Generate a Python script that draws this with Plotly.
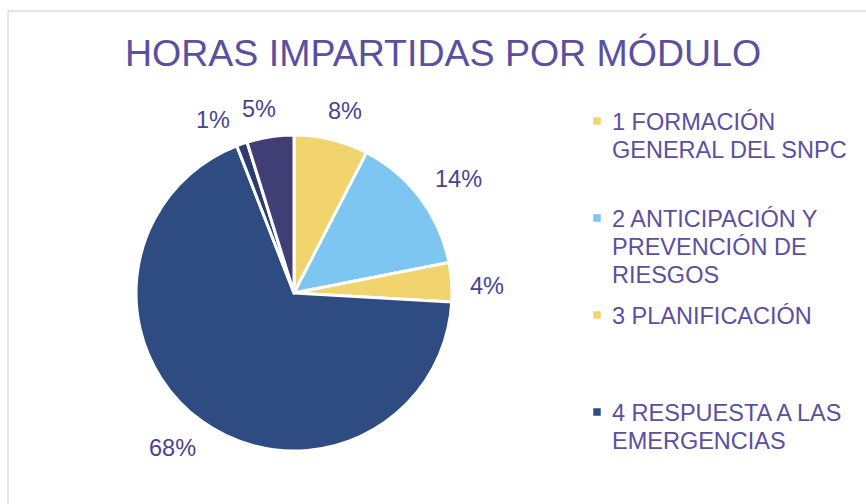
import math
import plotly.graph_objects as go

# ---- data ----
modules = ["1 FORMACIÓN GENERAL DEL SNPC", "2 ANTICIPACIÓN Y PREVENCIÓN DE RIESGOS",
           "3 PLANIFICACIÓN", "4 RESPUESTA A LAS EMERGENCIAS", "5", "6"]
shares = [7.6, 14.3, 4.0, 68.2, 1.1, 4.8]
slice_colors = ["#F2D46F", "#7DC6F2", "#F2D46F", "#2E4C82", "#2E3B6E", "#413E76"]
legend_lines = [["1 FORMACIÓN", "GENERAL DEL SNPC"],
                ["2 ANTICIPACIÓN Y", "PREVENCIÓN DE", "RIESGOS"],
                ["3 PLANIFICACIÓN"],
                ["4 RESPUESTA A LAS", "EMERGENCIAS"]]
title_text = "HORAS IMPARTIDAS POR MÓDULO"

# ---- layout constants ----
W, H = 866, 504
CX, CY, R = 294, 293, 158
TITLE_COLOR = "#5B4F9F"
LABEL_COLOR = "#4A4290"
FONT = "Liberation Sans, Arial, sans-serif"
LABEL_FS = 23.5

fig = go.Figure()
fig.add_trace(go.Pie(
    labels=modules, values=shares, sort=False, direction="clockwise", rotation=0,
    marker=dict(colors=slice_colors, line=dict(color="white", width=3)),
    textinfo="none", hoverinfo="label+percent", showlegend=False,
    domain=dict(x=[(CX - R) / W, (CX + R) / W], y=[(H - CY - R) / H, (H - CY + R) / H]),
))

# percent labels outside the pie, positioned from the data (slice mid-angles)
total = sum(shares)
labels = []
cum = 0.0
ANG_SHIFT = 2.0
for v in shares:
    mid = (cum + v / 2) / total * 360.0 + ANG_SHIFT
    cum += v
    txt = f"{round(v / total * 100)}%"
    w = (0.556 * (len(txt) - 1) + 0.889) * LABEL_FS
    labels.append(dict(ang=mid, txt=txt, hw=w / 2, hh=0.36 * LABEL_FS))

GAP = 18

def pos(lab):
    a = math.radians(lab["ang"])
    s, c = math.sin(a), math.cos(a)
    proj = lab["hw"] * abs(s) + lab["hh"] * abs(c)
    d = R + GAP + proj
    return CX + d * s, CY - d * c

# simple collision resolution between neighbouring labels
PAD = 12
for _ in range(200):
    moved = False
    for i in range(len(labels)):
        j = (i + 1) % len(labels)
        xi, yi = pos(labels[i]); xj, yj = pos(labels[j])
        if abs(xi - xj) < labels[i]["hw"] + labels[j]["hw"] + PAD and abs(yi - yj) < labels[i]["hh"] + labels[j]["hh"] + PAD:
            labels[i]["ang"] -= 1.0
            labels[j]["ang"] -= 0.5
            moved = True
    if not moved:
        break

annotations = []
for lab in labels:
    x, y = pos(lab)
    annotations.append(dict(x=x / W, y=1 - y / H, xref="paper", yref="paper", text=lab["txt"],
                            showarrow=False, xanchor="center", yanchor="middle",
                            font=dict(family=FONT, size=LABEL_FS, color=LABEL_COLOR)))

# manual legend (only the first four entries are visible in the original)
LEG_X_TEXT, LEG_X_SQ, LEG_TOP, LEG_SLOT, LINE_H, SQ = 610, 597, 121, 97, 28, 7.5
LEG_FS = 23.5
shapes = []
for k, lines in enumerate(legend_lines):
    y0 = LEG_TOP + k * LEG_SLOT
    shapes.append(dict(type="rect", xref="paper", yref="paper",
                       x0=(LEG_X_SQ - SQ / 2) / W, x1=(LEG_X_SQ + SQ / 2) / W,
                       y0=1 - (y0 + SQ / 2) / H, y1=1 - (y0 - SQ / 2) / H,
                       fillcolor=slice_colors[k], line=dict(width=0)))
    for n, line in enumerate(lines):
        yy = y0 + n * LINE_H
        annotations.append(dict(x=LEG_X_TEXT / W, y=1 - (yy + 1) / H, xref="paper", yref="paper",
                                text=line, showarrow=False, xanchor="left", yanchor="middle",
                                font=dict(family=FONT, size=LEG_FS, color=TITLE_COLOR)))

# chart frame
shapes.append(dict(type="rect", xref="paper", yref="paper", x0=8 / W, x1=1.05, y0=-0.05, y1=1 - 11 / H,
                   line=dict(color="#DAD8EE", width=1.5), fillcolor="rgba(0,0,0,0)"))

annotations.append(dict(x=443 / W, y=1 - 53 / H, xref="paper", yref="paper", text=title_text,
                        showarrow=False, xanchor="center", yanchor="middle",
                        font=dict(family=FONT, size=37.5, color=TITLE_COLOR)))

fig.update_layout(width=W, height=H, margin=dict(l=0, r=0, t=0, b=0),
                  paper_bgcolor="white", plot_bgcolor="white",
                  annotations=annotations, shapes=shapes, showlegend=False)

fig.write_html("out.html", config={"displayModeBar": False},
               post_script="document.body.style.margin='0';document.body.style.padding='0';document.body.style.overflow='hidden';")
